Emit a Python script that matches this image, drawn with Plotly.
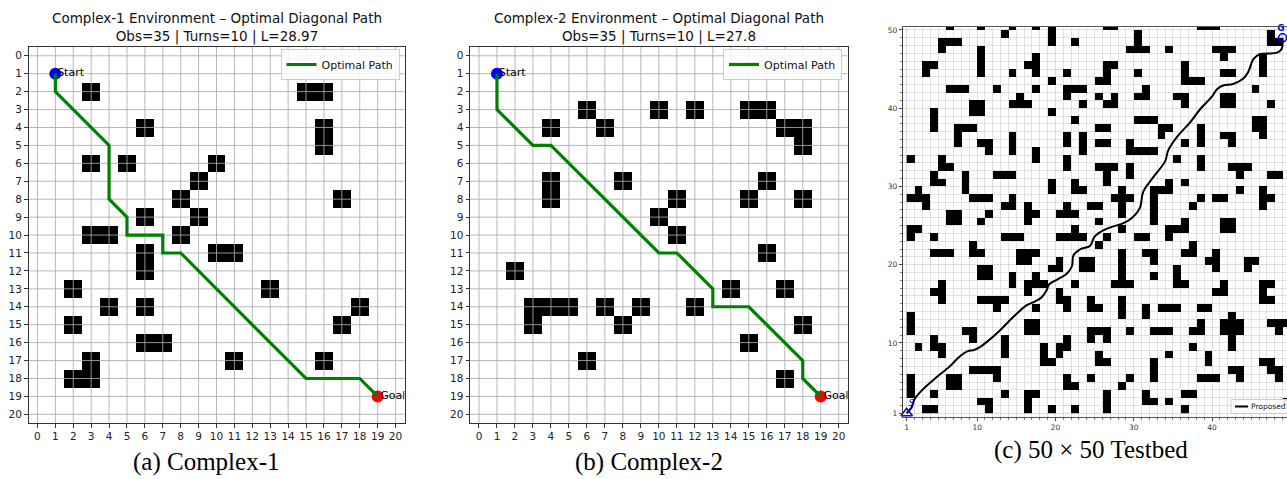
import numpy as np
import plotly.graph_objects as go

W, H = 1287, 479

# ---------------- Panel (a) Complex-1 ----------------
c1_obs_x = [3, 15, 16, 6, 16, 16, 3, 5, 10, 9, 8, 17, 6, 9, 3, 4, 8, 6, 6, 10, 11,
            2, 13, 4, 6, 18, 2, 17, 6, 7, 3, 11, 16, 2, 3]
c1_obs_y = [2, 2, 2, 4, 4, 5, 6, 6, 6, 7, 8, 8, 9, 9, 10, 10, 10, 11, 12, 11, 11,
            13, 13, 14, 14, 14, 15, 15, 16, 16, 17, 17, 17, 18, 18]
c1_path_x = [1, 1, 4, 4, 5, 5, 7, 7, 8, 15, 18, 19]
c1_path_y = [1, 2, 5, 8, 9, 10, 10, 11, 11, 18, 18, 19]
c1_title = "Complex-1 Environment – Optimal Diagonal Path<br>Obs=35 | Turns=10 | L=28.97"

# ---------------- Panel (b) Complex-2 ----------------
c2_obs_x = [6, 10, 12, 15, 16, 4, 7, 17, 18, 18, 4, 4, 8, 16, 11, 15, 18,
            10, 11, 16, 2, 14, 17, 3, 4, 5, 3, 7, 9, 12, 8, 18, 15, 6, 17]
c2_obs_y = [3, 3, 3, 3, 3, 4, 4, 4, 4, 5, 7, 8, 7, 7, 8, 8, 8,
            9, 10, 11, 12, 13, 13, 14, 14, 14, 15, 14, 14, 14, 15, 15, 16, 17, 18]
c2_path_x = [1, 1, 3, 4, 10, 11, 13, 13, 15, 18, 18, 19]
c2_path_y = [1, 3, 5, 5, 11, 11, 13, 14, 14, 17, 18, 19]
c2_title = "Complex-2 Environment – Optimal Diagonal Path<br>Obs=35 | Turns=10 | L=27.8"

start_pt = (1, 1)
goal_pt = (19, 19)
grid_ticks = list(range(0, 21))

# ---------------- Panel (c) 50x50 testbed ----------------
tb_rows = list(range(50, 0, -1))
tb_cols = [
    [6, 10, 14, 17, 19, 26, 27, 38, 39, 40],                       # 50
    [13, 19, 30, 47],                                               # 49
    [5, 6, 7, 19, 22, 30, 47, 48],                                  # 48
    [5, 10, 29, 30, 31, 34, 40, 41, 42],                            # 47
    [10, 17, 41, 46],                                               # 46
    [3, 4, 10, 16, 17, 26, 27, 36, 46],                             # 45
    [3, 10, 14, 17, 21, 26, 30, 36, 41, 42, 46],                    # 44
    [19, 25, 26, 36, 37, 38],                                       # 43
    [6, 7, 8, 12, 17, 21, 22, 23, 31, 45],                          # 42
    [15, 21, 25, 27, 30, 31, 35, 36, 41, 42],                       # 41
    [9, 10, 14, 15, 16, 23, 26, 27, 36, 41, 42, 47],                # 40
    [4, 9, 10, 19],                                                 # 39
    [4, 22, 30, 31, 32, 45, 46],                                    # 38
    [4, 7, 8, 9, 25, 26, 33, 34, 38, 45, 46],                       # 37
    [7, 14, 21, 23, 33, 38, 41, 42, 46],                            # 36
    [7, 10, 11, 14, 21, 23, 25, 26, 29, 36, 38, 42],                # 35
    [11, 14, 17, 23, 29, 30, 31, 32],                               # 34
    [1, 5, 17, 21, 35, 38],                                         # 33
    [5, 6, 21, 25, 26, 27, 29, 38, 42, 43, 44],                     # 32
    [4, 8, 12, 13, 14, 26, 29, 43, 47, 48],                         # 31
    [4, 5, 8, 19, 22, 26, 34, 36],                                  # 30
    [2, 8, 19, 22, 23, 28, 32, 33, 34, 43, 46],                     # 29
    [1, 2, 3, 9, 10, 11, 14, 27, 28, 29, 32, 38, 40, 41, 46, 47],   # 28
    [3, 13, 14, 16, 21, 24, 25, 28, 32, 37, 46],                    # 27
    [6, 7, 11, 16, 17, 20, 21, 22, 28, 32],                         # 26
    [6, 7, 10, 16, 25, 32, 36, 41, 42],                             # 25
    [1, 2, 22, 28, 34, 35, 36, 41, 42],                             # 24
    [1, 4, 13, 14, 15, 20, 21, 22, 23, 26, 30, 31, 34],             # 23
    [9, 25, 37],                                                    # 22
    [4, 5, 6, 9, 10, 15, 16, 17, 28, 31, 32, 36, 37, 40],           # 21
    [15, 16, 20, 23, 24, 28, 32, 39, 40, 44, 45],                   # 20
    [10, 11, 19, 20, 23, 24, 28, 35, 40, 44],                       # 19
    [10, 11, 14, 17, 28, 32, 35],                                   # 18
    [5, 14, 16, 17, 18, 22, 27, 28, 29, 35, 36, 41, 46, 47],        # 17
    [4, 5, 16, 20, 40, 41, 46],                                     # 16
    [5, 10, 11, 12, 13, 20, 21, 24, 28, 46, 47],                    # 15
    [12, 17, 21, 24, 25, 28, 31, 33, 34, 35, 38, 39],               # 14
    [1, 28, 31, 42],                                                # 13
    [1, 16, 17, 38, 41, 42, 43, 47, 48, 49],                        # 12
    [1, 8, 9, 16, 17, 24, 25, 26, 29, 32, 33, 34, 37, 38, 41, 42, 43, 48],  # 11
    [4, 9, 13, 21, 24, 26, 42],                                     # 10
    [2, 4, 5, 13, 18, 20, 21, 37, 42],                              # 9
    [5, 13, 18, 20, 25, 34, 39],                                    # 8
    [18, 19, 25, 26, 32, 39, 46, 47],                               # 7
    [9, 10, 11, 12, 32, 42, 43, 47, 48],                            # 6
    [1, 6, 7, 12, 21, 24, 29, 32, 38, 39, 40, 43, 48],              # 5
    [1, 6, 7, 21, 22, 28],                                          # 4
    [1, 4, 13, 16, 17, 26, 31, 36, 37],                             # 3
    [10, 11, 16, 26, 31, 32, 34, 49],                               # 2
    [3, 4, 11, 16, 19, 22, 26, 36],                                 # 1
]
tb_path_x = [1, 1.6, 2.0, 3.0, 4.8, 6.5, 7.8, 8.8, 9.6, 10.4, 11.2, 12.9, 14.6, 16.3,
             17.2, 18.2, 18.9, 19.2, 20.2, 21.4, 22.1, 22.3, 23.2, 24.4, 25.0, 26.1,
             27.4, 28.7, 29.9, 30.8, 31.2, 32.5, 34.0, 34.4, 35.5, 37.2, 38.5, 40.0,
             40.6, 41.4, 42.7, 44.0, 44.6, 45.3, 46.1, 48.3, 48.9, 49.0]
tb_path_y = [1, 1.7, 2.8, 4.0, 5.6, 7.0, 8.3, 8.95, 9.1, 9.5, 10.1, 11.6, 13.3, 14.8,
             15.2, 15.8, 16.8, 17.5, 18.1, 18.8, 19.8, 21.2, 22.0, 22.4, 23.6, 24.4,
             24.9, 25.3, 26.1, 27.3, 29.3, 31.2, 33.2, 34.6, 36.3, 38.2, 39.9, 41.5,
             42.4, 42.9, 43.1, 43.8, 44.6, 46.3, 46.9, 47.1, 47.6, 49.0]
tb_start = (1, 1)
tb_goal = (49, 49)
tb_ticks = [1, 10, 20, 30, 40, 50]
tb_legend_label = "Proposed"

captions = ["(a) Complex-1", "(b) Complex-2", "(c) 50 × 50 Testbed"]

FONT = "DejaVu Sans"
SERIF = "Liberation Serif"

fig = go.Figure()


def grid_matrix(xs, ys, n):
    z = np.full((n, n), np.nan)
    for x, y in zip(xs, ys):
        z[y, x] = 1
    return z


def add_env(obs_x, obs_y, path_x, path_y, xa, ya, legend):
    n = 21
    z = grid_matrix(obs_x, obs_y, n)
    fig.add_trace(go.Heatmap(z=z, x=list(range(n)), y=list(range(n)),
                             colorscale=[[0, "black"], [1, "black"]], showscale=False,
                             zmin=0, zmax=1, xaxis=xa, yaxis=ya, hoverinfo="skip"))
    gx, gy = [], []
    for v in grid_ticks:
        gx += [v, v, None]
        gy += [-0.5, 20.5, None]
        gx += [-0.5, 20.5, None]
        gy += [v, v, None]
    fig.add_trace(go.Scatter(x=gx, y=gy, mode="lines", line=dict(color="rgba(170,170,170,0.85)", width=1),
                             showlegend=False, hoverinfo="skip", xaxis=xa, yaxis=ya))
    fig.add_trace(go.Scatter(x=[start_pt[0]], y=[start_pt[1]], mode="markers",
                             marker=dict(color="#0000ff", size=12), showlegend=False,
                             xaxis=xa, yaxis=ya))
    fig.add_trace(go.Scatter(x=[goal_pt[0]], y=[goal_pt[1]], mode="markers",
                             marker=dict(color="#ff0000", size=12), showlegend=False,
                             xaxis=xa, yaxis=ya))
    fig.add_trace(go.Scatter(x=path_x, y=path_y, mode="lines", name="Optimal Path",
                             line=dict(color="#008000", width=3.2), legend=legend,
                             xaxis=xa, yaxis=ya))
    fig.add_trace(go.Scatter(x=[start_pt[0] + 0.1, goal_pt[0] + 0.15], y=[start_pt[1], goal_pt[1]],
                             mode="text", text=["Start", "Goal"], textposition="middle right",
                             textfont=dict(family=FONT, size=11, color="black"),
                             showlegend=False, xaxis=xa, yaxis=ya))


add_env(c1_obs_x, c1_obs_y, c1_path_x, c1_path_y, "x", "y", "legend")
add_env(c2_obs_x, c2_obs_y, c2_path_x, c2_path_y, "x2", "y2", "legend2")

# Testbed
zt = np.full((50, 50), np.nan)
for r, cols in zip(tb_rows, tb_cols):
    for c in cols:
        zt[r - 1, c - 1] = 1
fig.add_trace(go.Heatmap(z=zt, x=[c + 0.5 for c in range(1, 51)], y=[r + 0.5 for r in range(1, 51)],
                         colorscale=[[0, "black"], [1, "black"]], showscale=False, zmin=0, zmax=1,
                         xaxis="x3", yaxis="y3", hoverinfo="skip"))
fig.add_trace(go.Scatter(x=tb_path_x, y=tb_path_y, mode="lines", name=tb_legend_label,
                         line=dict(color="black", width=2, shape="spline", smoothing=1.0),
                         showlegend=False, xaxis="x3", yaxis="y3"))
fig.add_trace(go.Scatter(x=[tb_start[0]], y=[tb_start[1]], mode="markers",
                         marker=dict(symbol="triangle-up-open", color="#0000ff", size=10,
                                     line=dict(width=1.5, color="#0000ff")),
                         showlegend=False, xaxis="x3", yaxis="y3", cliponaxis=False))
fig.add_trace(go.Scatter(x=[tb_goal[0]], y=[tb_goal[1]], mode="markers",
                         marker=dict(symbol="circle-open", color="#0000ff", size=8,
                                     line=dict(width=1.6, color="#0000ff")),
                         showlegend=False, xaxis="x3", yaxis="y3", cliponaxis=False))
fig.add_trace(go.Scatter(x=[tb_start[0] + 0.6, tb_goal[0] - 0.2], y=[tb_start[1] + 1.2, tb_goal[1] + 1.1],
                         mode="text", text=["<i>S</i>", "<b>G</b>"],
                         textfont=dict(family=FONT, size=9, color="#0000ff"),
                         showlegend=False, xaxis="x3", yaxis="y3", cliponaxis=False))

ax_common = dict(ticks="outside", ticklen=3.5, tickwidth=1, tickcolor="#333",
                 showline=True, linecolor="#333", linewidth=1, mirror=True,
                 showgrid=False, zeroline=False,
                 tickfont=dict(family=FONT, size=10.5, color="#222"))

y0, y1 = 1 - 423.3 / H, 1 - 46.8 / H
fig.update_layout(
    width=W, height=H, margin=dict(l=0, r=0, t=0, b=0, autoexpand=False),
    paper_bgcolor="white", plot_bgcolor="white",
    xaxis=dict(domain=[28.5 / W, 404.5 / W], range=[-0.5, 20.5], tickvals=grid_ticks, anchor="y", **ax_common),
    yaxis=dict(domain=[y0, y1], range=[20.5, -0.5], tickvals=grid_ticks, anchor="x", **ax_common),
    xaxis2=dict(domain=[470 / W, 847.7 / W], range=[-0.5, 20.5], tickvals=grid_ticks, anchor="y2", **ax_common),
    yaxis2=dict(domain=[y0, y1], range=[20.5, -0.5], tickvals=grid_ticks, anchor="x2", **ax_common),
    xaxis3=dict(domain=[902.7 / W, 1.0], range=[0.49, 49.57], tickvals=tb_ticks, anchor="y3",
                ticks="outside", ticklen=3, tickcolor="#444", showline=True, linecolor="#555",
                mirror=True, zeroline=False, showgrid=True, gridcolor="#dcdcdc", gridwidth=0.7,
                minor=dict(dtick=1, tick0=0, showgrid=True, gridcolor="#e0e0e0", gridwidth=0.6,
                           ticks="outside", ticklen=1.5, tickcolor="#777"),
                tickfont=dict(family=FONT, size=7.5, color="#333")),
    yaxis3=dict(domain=[1 - 417 / H, 1 - 26.7 / H], range=[0.53, 50.42], tickvals=tb_ticks, anchor="x3",
                ticks="outside", ticklen=3, tickcolor="#444", showline=True, linecolor="#444",
                mirror=False, zeroline=False, showgrid=True, gridcolor="#dcdcdc", gridwidth=0.7,
                minor=dict(dtick=1, tick0=0, showgrid=True, gridcolor="#e0e0e0", gridwidth=0.6,
                           ticks="outside", ticklen=2, tickcolor="#777"),
                tickfont=dict(family=FONT, size=7.5, color="#333")),
    legend=dict(x=399.5 / W, xanchor="right", y=1 - 49 / H, yanchor="top",
                font=dict(family=FONT, size=11, color="#111"), bgcolor="rgba(255,255,255,0.85)",
                bordercolor="#cccccc", borderwidth=1, itemwidth=30),
    legend2=dict(x=842 / W, xanchor="right", y=1 - 49 / H, yanchor="top",
                 font=dict(family=FONT, size=11, color="#111"), bgcolor="rgba(255,255,255,0.85)",
                 bordercolor="#cccccc", borderwidth=1, itemwidth=30),
)

# manual legend key for the testbed (cut by the right edge as in the original)
fig.add_shape(type="rect", xref="paper", yref="paper", x0=1231 / W, x1=1300 / W,
              y0=1 - 413.5 / H, y1=1 - 399.5 / H, line=dict(color="#cccccc", width=1),
              fillcolor="rgba(255,255,255,0.9)", layer="above")
fig.add_shape(type="line", xref="paper", yref="paper", x0=1235 / W, x1=1248 / W,
              y0=1 - 406.5 / H, y1=1 - 406.5 / H, line=dict(color="black", width=2), layer="above")
fig.add_annotation(xref="paper", yref="paper", x=1250 / W, y=1 - 406.5 / H, xanchor="left",
                   yanchor="middle", text=tb_legend_label, showarrow=False, borderpad=0,
                   font=dict(family=FONT, size=7.5, color="#111"))

annos = [
    dict(x=216.5 / W, y=1 - 27.5 / H, text=c1_title),
    dict(x=659 / W, y=1 - 27.5 / H, text=c2_title),
]
for a in annos:
    fig.add_annotation(xref="paper", yref="paper", xanchor="center", yanchor="middle",
                       showarrow=False, font=dict(family=FONT, size=13.5, color="#111"), **a)

cap_pos = [(206 / W, 1 - 462 / H), (649 / W, 1 - 462 / H), (1091 / W, 1 - 450 / H)]
for txt, (cx, cy) in zip(captions, cap_pos):
    fig.add_annotation(xref="paper", yref="paper", x=cx, y=cy, xanchor="center", yanchor="middle",
                       text=txt, showarrow=False, borderpad=0,
                       font=dict(family=SERIF, size=25, color="black"))

fig.write_html("out.html")
